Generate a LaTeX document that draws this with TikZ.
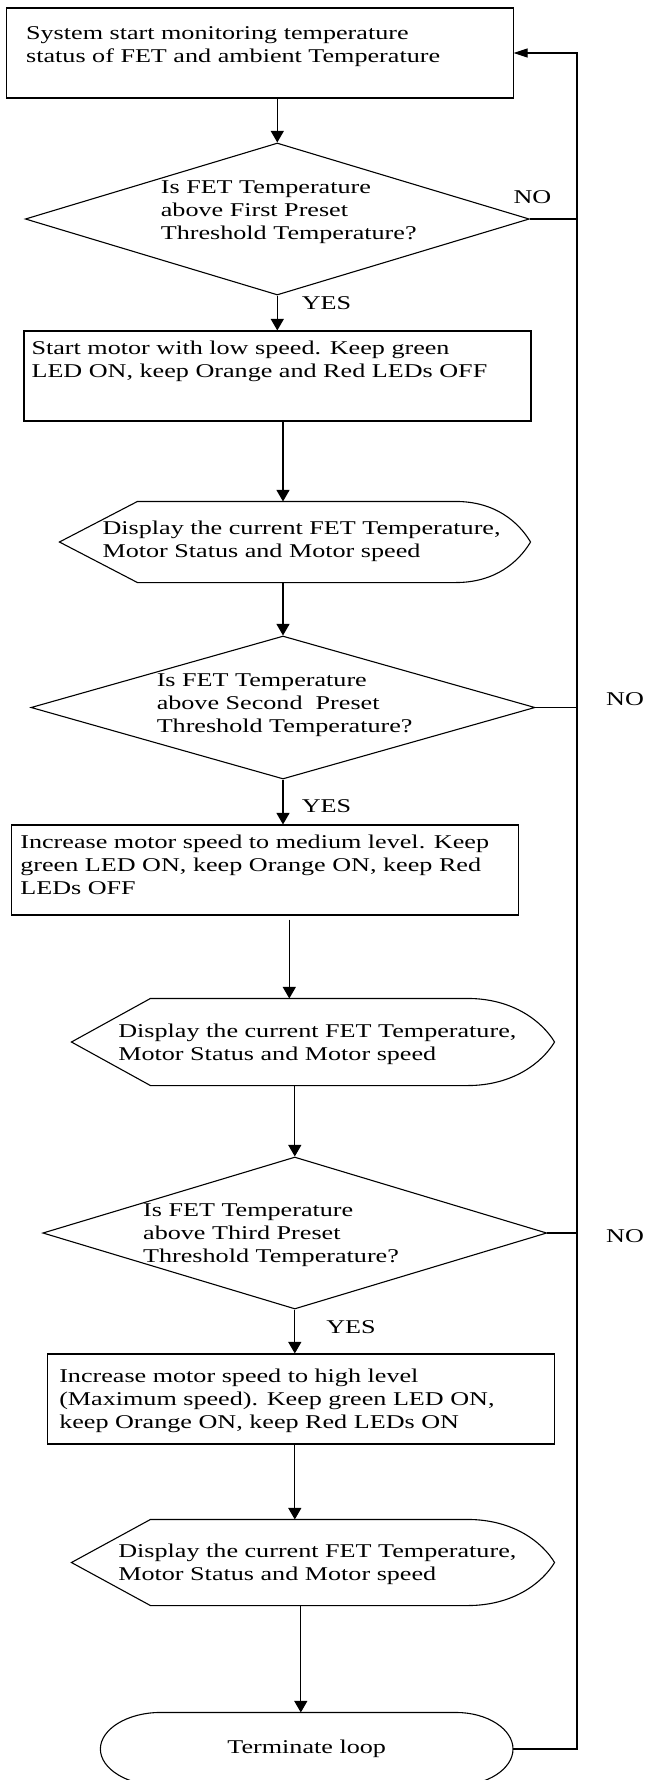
\documentclass[tikz,border=0pt]{standalone}
\usepackage{fontspec}
\setmainfont{Liberation Serif}[FakeStretch=1.34]
\usetikzlibrary{arrows.meta,shapes.geometric,calc}

\begin{document}
\begin{tikzpicture}[x=1pt,y=-1pt,line width=1.1pt,line join=miter,
  font=\fontsize{19.5}{23}\selectfont,
  procbox/.style={draw,rectangle,inner sep=0,minimum width=507,minimum height=90},
  decision/.style={draw,diamond,inner sep=0,minimum width=504,minimum height=#1},
  frame/.style={rectangle,inner sep=0},
  txt/.style={anchor=north west,inner sep=0,align=left},
  arr/.style={-{Triangle[length=11.5pt,width=13pt]}},
  looparr/.style={-{Triangle[length=14pt,width=9pt]}}]
  \path[use as bounding box,fill=white] (0,0) rectangle (648,1780);

  % shapes
  \node[procbox] (start) at (259.6,53) {};
  \node[decision=152] (d1) at (277.3,219) {};
  \node[procbox] (proc2) at (277.5,376) {};
  \node[frame,minimum width=470,minimum height=80] (disp1) at (295,542) {};
  \node[decision=143] (d2) at (283,707.5) {};
  \node[procbox] (proc3) at (265.3,870) {};
  \node[frame,minimum width=482,minimum height=86] (disp2) at (313,1042) {};
  \node[decision=152] (d3) at (294.8,1233) {};
  \node[procbox] (proc4) at (300.8,1399) {};
  \node[frame,minimum width=482,minimum height=85] (disp3) at (313,1562.5) {};
  \node[frame,minimum width=411.5,minimum height=72] (term) at (306.7,1749) {Terminate loop};

  % display outlines
  \foreach \d/\l/\r in {disp1/78/75,disp2/79/87,disp3/79/87}
    \draw ($(\d.north west)+(\l,0)$) -- ($(\d.north east)+(-\r,0)$)
      .. controls +(0.53*\r,0) and +(-12,-20) .. (\d.east)
      .. controls +(-12,20) and +(0.53*\r,0) .. ($(\d.south east)+(-\r,0)$)
      -- ($(\d.south west)+(\l,0)$) -- (\d.west) -- cycle;

  % terminator outline
  \draw ($(term.north west)+(60,0)$) -- ($(term.north east)+(-57,0)$)
    .. controls +(31.5,0) and +(0,-19.9) .. (term.east)
    .. controls +(0,19.9) and +(31.5,0) .. ($(term.south east)+(-57,0)$)
    -- ($(term.south west)+(60,0)$)
    .. controls +(-33,0) and +(0,19.9) .. (term.west)
    .. controls +(0,-19.9) and +(-33,0) .. ($(term.north west)+(60,0)$) -- cycle;

  % texts
  \node[txt] (start-t) at (25.6,23.2) {\strut System start monitoring temperature\\status of FET and ambient Temperature};
  \node[txt] (d1-t) at (160.3,177.2) {\strut Is FET Temperature\\above First Preset\\Threshold Temperature?};
  \node[txt] (proc2-t) at (31,338.2) {\strut Start motor with low speed. Keep green\\LED ON, keep Orange and Red LEDs OFF};
  \node[txt] (disp1-t) at (102,518.2) {\strut Display the current FET Temperature,\\Motor Status and Motor speed};
  \node[txt] (d2-t) at (156.2,670.2) {\strut Is FET Temperature\\above Second\ \ Preset\\Threshold Temperature?};
  \node[txt] (proc3-t) at (19.8,832.2) {\strut Increase motor speed to medium level. Keep\\green LED ON, keep Orange ON, keep Red\\LEDs OFF};
  \node[txt] (disp2-t) at (117.8,1021.2) {\strut Display the current FET Temperature,\\Motor Status and Motor speed};
  \node[txt] (d3-t) at (142.6,1200.2) {\strut Is FET Temperature\\above Third Preset\\Threshold Temperature?};
  \node[txt] (proc4-t) at (58.7,1366.2) {\strut Increase motor speed to high level\\(Maximum speed). Keep green LED ON,\\keep Orange ON, keep Red LEDs ON};
  \node[txt] (disp3-t) at (117.8,1541.2) {\strut Display the current FET Temperature,\\Motor Status and Motor speed};

  % labels
  \node (yes1) at (326.5,303.3) {YES};
  \node (yes2) at (326.5,805.7) {YES};
  \node (yes3) at (351,1326.7) {YES};
  \node (no1) at (532.4,196.7) {NO};
  \node (no2) at (625,699.3) {NO};
  \node (no3) at (625,1236) {NO};

  % connectors
  \draw[arr] (d1.north |- start.south) -- (d1.north);
  \draw[arr] (d1.south) -- (d1.south |- proc2.north);
  \draw[arr] (d2.north |- proc2.south) -- (d2.north |- disp1.north);
  \draw[arr] (d2.north |- disp1.south) -- (d2.north);
  \draw[arr] (d2.south) -- (d2.south |- proc3.north);
  \coordinate (c3) at ($(proc3.south)+(24,4)$);
  \draw[arr] (c3) -- (c3 |- disp2.north);
  \draw[arr] (d3.north |- disp2.south) -- (d3.north);
  \draw[arr] (d3.south) -- (d3.south |- proc4.north);
  \draw[arr] (d3.south |- proc4.south) -- (d3.south |- disp3.north);
  \draw[arr] (proc4.south |- disp3.south) -- (proc4.south |- term.north);

  % loop back
  \coordinate (rail) at (577,0);
  \foreach \d in {d1,d2,d3}
    \draw (\d.east) -- (\d.east -| rail);
  \draw[looparr] (term.east) -| (rail |- start.east) -- (start.east);
\end{tikzpicture}
\end{document}
